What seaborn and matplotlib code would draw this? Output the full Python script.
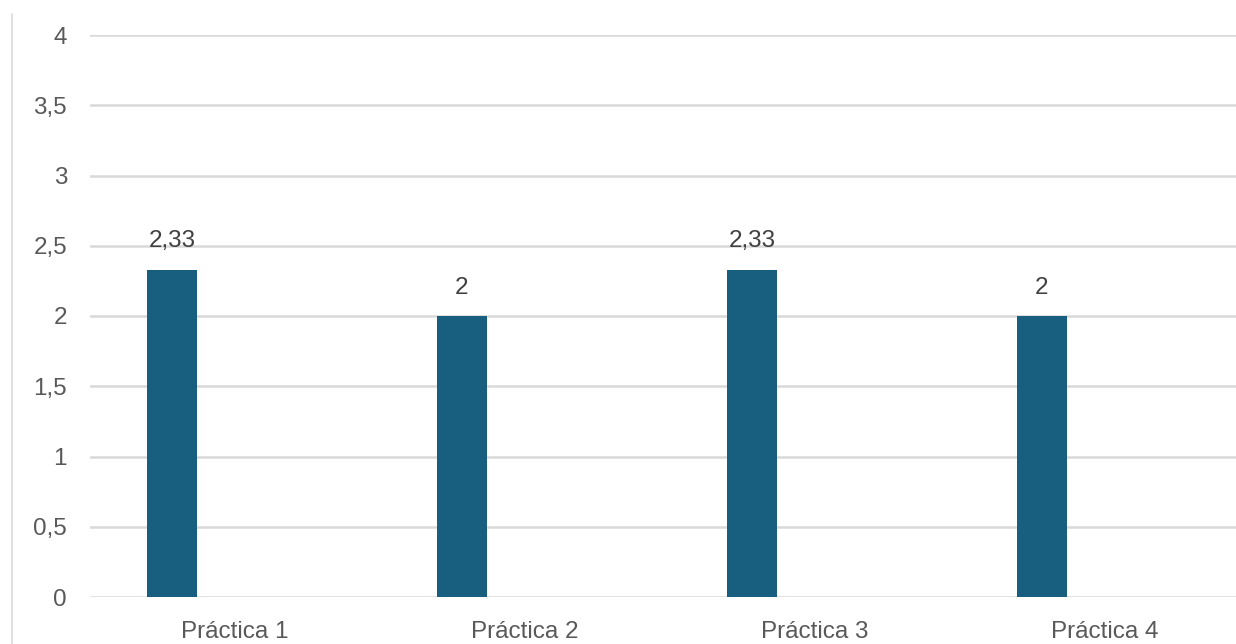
import matplotlib
matplotlib.use("Agg")
import matplotlib.pyplot as plt
import seaborn as sns
import pandas as pd
import numpy as np
from matplotlib.lines import Line2D

categories = ["Práctica 1", "Práctica 2", "Práctica 3", "Práctica 4"]
values = [2.33, 2, 2.33, 2]
value_labels = ["2,33", "2", "2,33", "2"]
yticks = [0, 0.5, 1, 1.5, 2, 2.5, 3, 3.5, 4]
ytick_labels = ["0", "0,5", "1", "1,5", "2", "2,5", "3", "3,5", "4"]

sns.set_theme(style="white")
plt.rcParams['font.family'] = ['Liberation Sans', 'DejaVu Sans']

W, H = 1236, 644
fig = plt.figure(figsize=(W / 100, H / 100), dpi=100)
ax = fig.add_axes([90 / W, 47 / H, 1160 / W, 562 / H])

df = pd.DataFrame({"cat": categories, "val": values})
bar_w = 50 / 290
shift = 63 / 290
sns.barplot(data=df, x="cat", y="val", color="#175E7F", saturation=1,
            width=bar_w, ax=ax, zorder=3, linewidth=0)

ax.set_xlim(-0.5 + shift, len(categories) - 0.5 + shift)
ax.set_ylim(0, 4)
ax.set_xticks(np.arange(len(categories)) + shift)
ax.set_xticklabels(categories)
ax.set_yticks(yticks)
ax.set_yticklabels(ytick_labels)
ax.set_xlabel("")
ax.set_ylabel("")

for s in ax.spines.values():
    s.set_visible(False)
ax.yaxis.grid(True, color="#D9D9D9", linewidth=1.8, zorder=0)
ax.xaxis.grid(False)
ax.set_axisbelow(True)
ax.tick_params(axis="y", length=0, pad=16.5, labelsize=17.5, labelcolor="#595959")
ax.tick_params(axis="x", length=0, pad=17, labelsize=17.5, labelcolor="#595959")

for i, (v, lab) in enumerate(zip(values, value_labels)):
    ax.annotate(lab, (i, v), xytext=(0, 16), textcoords="offset points",
                ha="center", va="baseline", fontsize=17.5, color="#404040")

fig.add_artist(Line2D([12 / W, 12 / W], [0, 1 - 14 / H], transform=fig.transFigure,
                      color="#D9D9D9", linewidth=1.2))

fig.savefig("out.png", dpi=100, facecolor="white")
